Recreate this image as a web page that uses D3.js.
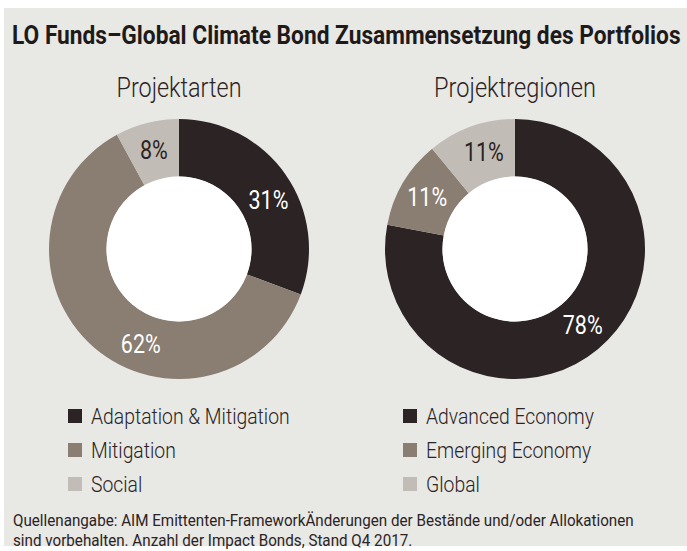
<!DOCTYPE html>
<html>
<head>
<meta charset="utf-8">
<script src="https://cdn.jsdelivr.net/npm/d3@7"></script>
<style>
	body { margin: 0; background: #ffffff; }
	svg { display: block; }
	text { font-family: 'Roboto', 'Liberation Sans', sans-serif; }
</style>
</head>
<body>
<div id="chart"></div>
<script>

// data
var typeLabels = ['Adaptation & Mitigation', 'Mitigation', 'Social'];
var typeValues = [31, 62, 8];
var regionLabels = ['Advanced Economy', 'Emerging Economy', 'Global'];
var regionValues = [78, 11, 11];
var sliceColors = ['#2b2324', '#8a7d71', '#c2bcb6'];
var labelColors = ['#ffffff', '#ffffff', '#2b2324'];

var width = 687, height = 551;
var outerR = 130, innerR = 72.5, labelR = 102;
var textColor = '#2b2324';

var svg = d3.select('#chart').append('svg')
	.attr('width', width)
	.attr('height', height);

/**
 * Adds a text squeezed horizontally (the reference uses a condensed face).
 * If fitWidth is given the squeeze is chosen so the text gets that width,
 * else sx is used. Returns the squeeze used.
 */
var addText = function(parent, x, y, str, size, weight, color, anchor, sx, fitWidth) {
	var t = parent.append('text')
		.attr('text-anchor', anchor || 'start')
		.style('font-size', size + 'px')
		.style('font-weight', weight)
		.attr('fill', color)
		.text(str);
	if (fitWidth) sx = fitWidth / t.node().getComputedTextLength();
	t.attr('transform', 'translate(' + x + ',' + y + ') scale(' + sx + ',1)');
	return sx;
};

// panel
svg.append('rect')
	.attr('x', 4)
	.attr('y', 8)
	.attr('width', width - 4)
	.attr('height', 538)
	.attr('fill', '#e8e8e4');

addText(svg, 12, 44, 'LO Funds\u2013Global Climate Bond Zusammensetzung des Portfolios',
	26, 'bold', '#1e1a1a', 'start', 1, 669);

var pie = d3.pie().sort(null).value(function(d) { return d; });
var arc = d3.arc().innerRadius(innerR).outerRadius(outerR);

/**
 * draws one donut with its heading, labels and legend
 */
var drawDonut = function(cx, title, titleWidth, values, labels, nudges, legendX) {

	addText(svg, cx, 97, title, 28, 300, textColor, 'middle', 1, titleWidth);

	var g = svg.append('g').attr('transform', 'translate(' + cx + ',249)');
	var arcs = pie(values);

	g.selectAll('path').data(arcs).enter().append('path')
		.attr('d', arc)
		.attr('fill', function(d, i) { return sliceColors[i]; });

	g.append('circle').attr('r', innerR).attr('fill', '#ffffff');

	arcs.forEach(function(d, i) {
		var a = (d.startAngle + d.endAngle) / 2 + nudges[i] * Math.PI / 180;
		addText(g, Math.sin(a) * labelR, -Math.cos(a) * labelR + 9, d.data + '%',
			25, 400, labelColors[i], 'middle', 0.86);
	});

	var leg = svg.append('g').attr('transform', 'translate(' + legendX + ',416)');
	labels.forEach(function(name, i) {
		leg.append('rect')
			.attr('x', 0)
			.attr('y', i * 34 - 7)
			.attr('width', 14)
			.attr('height', 14)
			.attr('fill', sliceColors[i]);
		addText(leg, 23, i * 34 + 8, name, 22.5, 300, textColor, 'start', 0.86);
	});
};

drawDonut(179, 'Projektarten', 125, typeValues, typeLabels, [6, -19, 0], 68);
drawDonut(515, 'Projektregionen', 162, regionValues, regionLabels, [-2, 0, 2], 403);

var k = addText(svg, 13, 526, 'Quellenangabe: AIM Emittenten-FrameworkÄnderungen der Bestände und/oder Allokationen',
	16, 400, textColor, 'start', 1, 621);
addText(svg, 13, 546, 'sind vorbehalten. Anzahl der Impact Bonds, Stand Q4 2017.',
	16, 400, textColor, 'start', k);

</script>
</body>
</html>
